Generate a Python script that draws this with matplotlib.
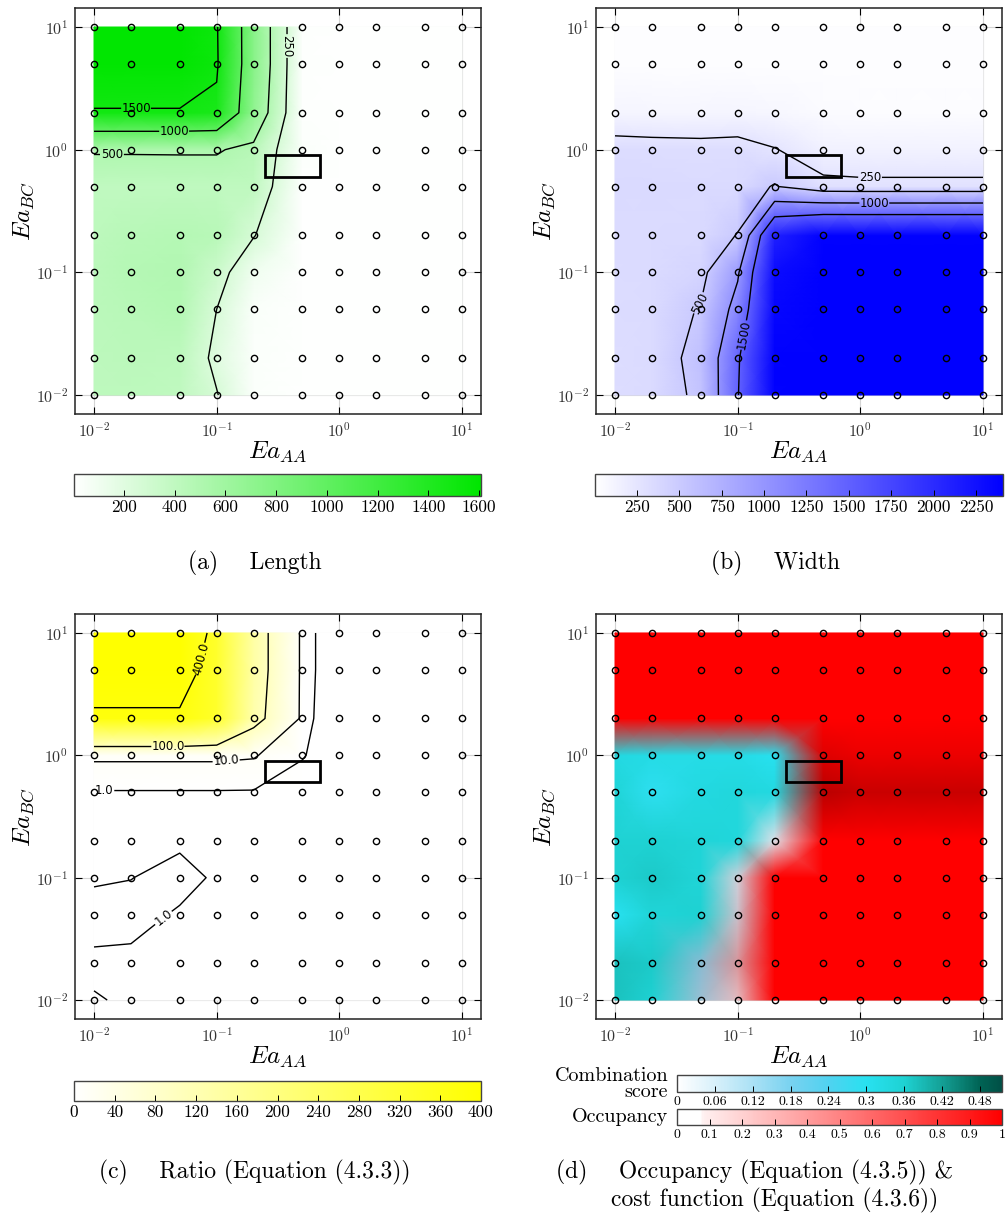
import matplotlib
matplotlib.use("Agg")
import matplotlib.pyplot as plt
import matplotlib.cm as cm
import numpy as np
from matplotlib.colors import LinearSegmentedColormap, Normalize
from matplotlib.patches import Rectangle
from matplotlib.ticker import NullLocator, FuncFormatter

plt.rcParams["font.family"] = "serif"
plt.rcParams["font.serif"] = ["cmr10"]
plt.rcParams["mathtext.fontset"] = "cm"
plt.rcParams["axes.formatter.use_mathtext"] = True

ea_aa = [0.01, 0.02, 0.05, 0.1, 0.2, 0.5, 1, 2, 5, 10]
ea_bc = [0.01, 0.02, 0.05, 0.1, 0.2, 0.5, 1, 2, 5, 10]

# rows are listed from Ea_BC = 10 (top of the plot) down to Ea_BC = 0.01
length = [
    [1600, 1600, 1600, 1520, 750, 20, 10, 10, 10, 10],
    [1600, 1600, 1600, 1530, 750, 20, 10, 10, 10, 10],
    [1490, 1490, 1490, 1450, 700, 20, 10, 10, 10, 10],
    [515, 515, 515, 515, 450, 30, 15, 10, 10, 10],
    [400, 400, 410, 410, 400, 10, 10, 10, 10, 10],
    [420, 450, 470, 450, 260, 10, 10, 10, 10, 10],
    [430, 470, 490, 330, 100, 10, 10, 10, 10, 10],
    [430, 450, 480, 250, 40, 10, 10, 10, 10, 10],
    [420, 430, 420, 200, 30, 10, 10, 10, 10, 10],
    [420, 420, 400, 260, 30, 10, 10, 10, 10, 10],
]
width = [
    [25, 25, 25, 25, 25, 25, 25, 25, 25, 25],
    [30, 30, 30, 30, 30, 30, 30, 30, 30, 30],
    [100, 90, 90, 100, 80, 50, 40, 40, 40, 40],
    [340, 330, 320, 330, 260, 140, 130, 130, 130, 130],
    [360, 360, 350, 360, 520, 300, 290, 290, 290, 290],
    [350, 350, 360, 510, 2100, 2400, 2400, 2400, 2400, 2400],
    [340, 350, 400, 950, 2300, 2410, 2410, 2410, 2410, 2410],
    [340, 350, 520, 1150, 2350, 2410, 2410, 2410, 2410, 2410],
    [330, 350, 600, 1450, 2400, 2410, 2410, 2410, 2410, 2410],
    [330, 350, 560, 1480, 2400, 2410, 2410, 2410, 2410, 2410],
]
ratio = [
    [600, 600, 600, 330, 142, 1.5, 0.1, 0.05, 0.05, 0.05],
    [470, 470, 470, 330, 142, 1.5, 0.1, 0.05, 0.05, 0.05],
    [380, 380, 380, 330, 130, 1.4, 0.1, 0.05, 0.05, 0.05],
    [12, 12, 12, 12, 11, 1.1, 0.1, 0.05, 0.05, 0.05],
    [0.5, 0.5, 0.5, 0.5, 0.4, 0.3, 0.1, 0.05, 0.05, 0.05],
    [0.8, 0.8, 0.85, 0.7, 0.3, 0.05, 0.05, 0.05, 0.05, 0.05],
    [0.9, 0.98, 1.3, 0.88, 0.1, 0.02, 0.02, 0.02, 0.02, 0.02],
    [1.3, 1.3, 0.9, 0.7, 0.05, 0.02, 0.02, 0.02, 0.02, 0.02],
    [0.85, 0.8, 0.7, 0.6, 0.05, 0.02, 0.02, 0.02, 0.02, 0.02],
    [1.05, 0.91, 0.7, 0.6, 0.05, 0.02, 0.02, 0.02, 0.02, 0.02],
]
occupancy = [
    [1, 1, 1, 1, 1, 1, 1, 1, 1, 1],
    [1, 1, 1, 1, 1, 1, 1, 1, 1, 1],
    [1, 1, 1, 1, 1, 1, 1, 1, 1, 1],
    [0, 0, 0, 0, 0, 1, 1, 1, 1, 1],
    [0, 0, 0, 0, 0, 1, 1, 1, 1, 1],
    [0, 0, 0, 0, 0.1, 1, 1, 1, 1, 1],
    [0, 0, 0, 0.15, 1, 1, 1, 1, 1, 1],
    [0, 0, 0.05, 0.2, 1, 1, 1, 1, 1, 1],
    [0, 0, 0.15, 0.4, 1, 1, 1, 1, 1, 1],
    [0, 0.05, 0.15, 0.25, 1, 1, 1, 1, 1, 1],
]
score = [
    [0, 0, 0, 0, 0, 0, 0, 0, 0, 0],
    [0, 0, 0, 0, 0, 0, 0, 0, 0, 0],
    [0, 0, 0, 0, 0, 0, 0, 0, 0, 0],
    [0.33, 0.32, 0.32, 0.32, 0.30, 0.05, 0.03, 0.03, 0.03, 0.03],
    [0.35, 0.29, 0.33, 0.34, 0.33, 0.10, 0.08, 0.08, 0.08, 0.08],
    [0.36, 0.36, 0.35, 0.34, 0.05, 0, 0, 0, 0, 0],
    [0.36, 0.37, 0.35, 0.07, 0, 0, 0, 0, 0, 0],
    [0.30, 0.35, 0.36, 0.08, 0, 0, 0, 0, 0, 0],
    [0.38, 0.37, 0.16, 0.06, 0, 0, 0, 0, 0, 0],
    [0.38, 0.36, 0.14, 0.04, 0, 0, 0, 0, 0, 0],
]

rect_x = (0.25, 0.7)
rect_y = (0.6, 0.9)

XLIM = (10 ** -2.155, 10 ** 1.155)

green = LinearSegmentedColormap.from_list("g", ["white", "#00e600"])
blue = LinearSegmentedColormap.from_list("b", ["white", "#0000ff"])
yellow = LinearSegmentedColormap.from_list("y", ["white", "#ffff00"])
red = LinearSegmentedColormap.from_list(
    "r", [(0, "white"), (0.07, "white"), (0.08, "#fff0f0"), (1, "#ff0000")])
teal = LinearSegmentedColormap.from_list(
    "t", [(0, "white"), (0.117, "#d7f0fa"), (0.233, "#aae1f5"), (0.35, "#78d2f0"),
          (0.466, "#50d2f0"), (0.583, "#28e1f0"), (0.7, "#1ed2d2"),
          (0.816, "#14a096"), (0.932, "#006455"), (1, "#005046")])


def grid(rows):
    return np.flipud(np.array(rows, dtype=float))


def draw_panel(fig, pos, z, cmap=None, norm=None, levels=None, fmt=None, label_pos=None):
    ax = fig.add_axes(pos)
    ax.set_xscale("log")
    ax.set_yscale("log")
    ax.set_xlim(XLIM)
    ax.set_ylim(XLIM)
    ax.set_autoscale_on(False)
    ax.set_axisbelow(True)
    ax.grid(True, color="#d4d4d4", lw=0.8)
    ax.pcolormesh(ea_aa, ea_bc, z, shading="gouraud", cmap=cmap, norm=norm, zorder=1)
    if levels is not None:
        field = ax.transLimits + ax.transAxes
        cs = ax.contour(np.log10(ea_aa), np.log10(ea_bc), z, levels=levels,
                        colors="k", linewidths=1, transform=field, zorder=2)
        texts = ax.clabel(cs, fmt=fmt, fontsize=8.5, manual=label_pos, inline_spacing=3)
        for t in texts:
            t.set_fontfamily("DejaVu Sans")
    X, Y = np.meshgrid(ea_aa, ea_bc)
    ax.plot(X.ravel(), Y.ravel(), "o", ms=4.5, mfc="none", mec="k", mew=1, zorder=3)
    ax.add_patch(Rectangle((rect_x[0], rect_y[0]), rect_x[1] - rect_x[0],
                           rect_y[1] - rect_y[0], fill=False, lw=2, ec="k", zorder=4))
    ax.set_xlim(XLIM)
    ax.set_ylim(XLIM)
    ax.xaxis.set_minor_locator(NullLocator())
    ax.yaxis.set_minor_locator(NullLocator())
    ax.tick_params(direction="in", top=True, right=True, length=5, labelsize=11.5,
                   labelcolor="#333333", pad=5)
    for s in ax.spines.values():
        s.set_linewidth(1.1)
        s.set_color("#222222")
    ax.set_xlabel("$Ea_{AA}$", fontsize=18, labelpad=0)
    ax.set_ylabel("$Ea_{BC}$", fontsize=18, labelpad=0)
    return ax


def draw_cbar(fig, pos, cmap, norm, ticks, size=12.5):
    cax = fig.add_axes(pos)
    cb = fig.colorbar(cm.ScalarMappable(norm=norm, cmap=cmap), cax=cax,
                      orientation="horizontal", ticks=ticks)
    cb.ax.tick_params(direction="in", length=4, width=0.7, labelsize=size, pad=3)
    cb.ax.xaxis.set_major_formatter(FuncFormatter(lambda v, p: f"{v:g}"))
    cb.outline.set_linewidth(1)
    cb.outline.set_edgecolor("#444444")
    return cb


def main():
    fig = plt.figure(figsize=(10.05, 12.15), dpi=100)
    W, H = 1005.0, 1215.0

    def box(l, t, r, b):
        return [l / W, 1 - b / H, (r - l) / W, (b - t) / H]

    # (a) length
    n_a = Normalize(3, 1607)
    draw_panel(fig, box(75, 8, 481, 414), grid(length), green, n_a,
               [250, 500, 1000, 1500], "%d",
               [(0.022, 2.15), (0.045, 1.4), (0.014, 0.97), (0.36, 7.0)])
    draw_cbar(fig, box(74, 474, 481, 496), green, n_a, list(range(200, 1601, 200)))
    fig.text(255 / W, 1 - 563 / H, "(a)    Length", ha="center", va="center", fontsize=17)

    # (b) width
    n_b = Normalize(3, 2410)
    draw_panel(fig, box(596, 8, 1002, 414), grid(width), blue, n_b,
               [250, 500, 1000, 1500], "%d",
               [(1.2, 0.58), (0.05, 0.055), (1.3, 0.37), (0.13, 0.03)])
    draw_cbar(fig, box(595, 474, 1003, 496), blue, n_b, list(range(250, 2251, 250)))
    fig.text(775 / W, 1 - 563 / H, "(b)    Width", ha="center", va="center", fontsize=17)

    # (c) ratio
    n_c = Normalize(0, 400)
    draw_panel(fig, box(75, 614, 481, 1019), grid(ratio), yellow, n_c,
               [1, 10, 100, 400], "%.1f",
               [(0.082, 6.0), (0.04, 1.18), (0.12, 0.85), (0.012, 0.6), (0.035, 0.05)])
    draw_cbar(fig, box(74, 1081, 481, 1101), yellow, n_c, list(range(0, 401, 40)))
    fig.text(255 / W, 1 - 1172 / H, "(c)    Ratio (Equation (4.3.3))",
             ha="center", va="center", fontsize=17)

    # (d) occupancy x combination score
    n_occ = Normalize(0, 1)
    n_sc = Normalize(0, 0.515)
    rgb = red(n_occ(grid(occupancy)))[..., :3] * teal(n_sc(grid(score)))[..., :3]
    draw_panel(fig, box(596, 614, 1002, 1019), rgb)
    draw_cbar(fig, box(677, 1075, 1002, 1092), teal, n_sc,
              [0, 0.06, 0.12, 0.18, 0.24, 0.3, 0.36, 0.42, 0.48], size=10)
    draw_cbar(fig, box(677, 1109, 1002, 1125), red, n_occ,
              [0, 0.1, 0.2, 0.3, 0.4, 0.5, 0.6, 0.7, 0.8, 0.9, 1], size=10)
    fig.text(668 / W, 1 - 1084 / H, "Combination\nscore", ha="right", va="center",
             multialignment="right", fontsize=14.5, linespacing=0.8)
    fig.text(668 / W, 1 - 1117 / H, "Occupancy", ha="right", va="center", fontsize=14.5)
    fig.text(755 / W, 1 - 1172 / H, "(d)    Occupancy (Equation (4.3.5)) &",
             ha="center", va="center", fontsize=17)
    fig.text(775 / W, 1 - 1200 / H, "cost function (Equation (4.3.6))",
             ha="center", va="center", fontsize=17)

    fig.savefig("out.png", dpi=100)


if __name__ == "__main__":
    main()
